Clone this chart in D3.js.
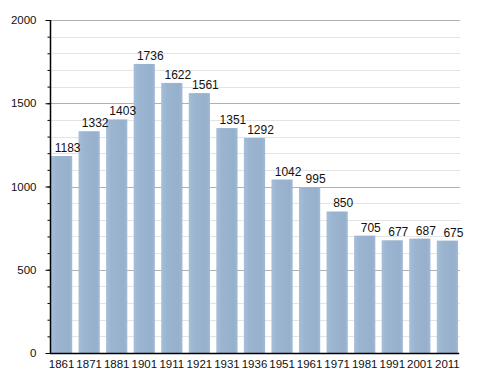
<!DOCTYPE html>
<html>
<head>
<meta charset="utf-8">
<script src="https://cdn.jsdelivr.net/npm/d3@7"></script>
<style>
  body { margin: 0; background: #fff; }
  svg { display: block; font-family: "Liberation Sans", Arial, sans-serif; }
</style>
</head>
<body>
<div id="vis"></div>
<script>
(function () {

  'use strict';

  // Data
  var years = ['1861', '1871', '1881', '1901', '1911', '1921', '1931', '1936',
    '1951', '1961', '1971', '1981', '1991', '2001', '2011'];
  var population = [1183, 1332, 1403, 1736, 1622, 1561, 1351, 1292,
    1042, 995, 850, 705, 677, 687, 675];
  var majorTicks = [0, 500, 1000, 1500, 2000];
  var minorTicks = d3.range(0, 2001, 100);

  // Settings
  var width = 488;
  var height = 373;

  var margin = { top: 20, right: 28, bottom: 20, left: 50 };

  var svg = d3.select('#vis').append('svg')
      .attr('width', width)
      .attr('height', height);

  var defs = svg.append('defs');
  var grad = defs.append('linearGradient')
      .attr('id', 'barFill')
      .attr('x1', 0).attr('x2', 1).attr('y1', 0).attr('y2', 0);
  grad.append('stop').attr('offset', '0%').attr('stop-color', '#a7bed7');
  grad.append('stop').attr('offset', '25%').attr('stop-color', '#9bb5d1');
  grad.append('stop').attr('offset', '85%').attr('stop-color', '#96b0cd');
  grad.append('stop').attr('offset', '100%').attr('stop-color', '#a2bad5');

  var x = d3.scaleBand()
      .domain(years)
      .range([margin.left + 1, width - margin.right - 2])
      .paddingInner(0.23)
      .paddingOuter(0);

  var y = d3.scaleLinear()
      .domain([0, 2000])
      .range([height - margin.bottom, margin.top]);

  var right = width - margin.right;

  // Grid lines
  svg.append('g')
    .selectAll('line')
      .data(minorTicks)
      .enter()
    .append('line')
      .attr('x1', margin.left)
      .attr('x2', right)
      .attr('y1', function (d) { return Math.round(y(d)) + 0.5; })
      .attr('y2', function (d) { return Math.round(y(d)) + 0.5; })
      .attr('stroke', function (d) { return d % 500 === 0 ? '#b0b0b0' : '#e4e4e4'; })
      .attr('stroke-width', 1);

  // Bars
  svg.append('g')
    .selectAll('rect')
      .data(population)
      .enter()
    .append('rect')
      .attr('x', function (d, i) { return x(years[i]); })
      .attr('width', x.bandwidth())
      .attr('y', function (d) { return y(d); })
      .attr('height', function (d) { return y(0) - y(d); })
      .attr('fill', 'url(#barFill)');

  // Value labels
  svg.append('g')
    .selectAll('text')
      .data(population)
      .enter()
    .append('text')
      .attr('x', function (d, i) { return x(years[i]) + x.bandwidth() / 2 + 6; })
      .attr('y', function (d) { return y(d) - 4; })
      .attr('text-anchor', 'middle')
      .attr('font-size', 12)
      .attr('fill', '#111')
      .text(function (d) { return d; });

  // Y axis with minor ticks
  var yMinor = d3.axisLeft(y)
      .tickValues(minorTicks)
      .tickSize(3)
      .tickFormat('');

  var yAxis = d3.axisLeft(y)
      .tickValues(majorTicks)
      .tickSize(5)
      .tickPadding(9)
      .tickFormat(d3.format('d'));

  svg.append('g')
      .attr('transform', 'translate(' + (margin.left + 0.5) + ',0)')
      .call(yMinor)
      .call(function (g) { g.select('.domain').remove(); });

  svg.append('g')
      .attr('transform', 'translate(' + (margin.left + 0.5) + ',0)')
      .call(yAxis)
      .call(function (g) {
        g.select('.domain').attr('d', 'M0,' + y(2000) + 'V' + y(0)).attr('stroke', '#000').attr('stroke-width', 1.5);
        g.selectAll('text').attr('font-size', 11.5).attr('fill', '#111');
      });

  // X axis
  var xAxis = d3.axisBottom(x)
      .tickSize(0)
      .tickPadding(6);

  svg.append('g')
      .attr('transform', 'translate(0,' + (y(0) + 0.5) + ')')
      .call(xAxis)
      .call(function (g) {
        g.select('.domain').attr('d', 'M' + margin.left + ',0H' + (right - 1)).attr('stroke', '#000').attr('stroke-width', 1.5);
        g.selectAll('text').attr('font-size', 11.5).attr('fill', '#111');
      });
})();
</script>
</body>
</html>
